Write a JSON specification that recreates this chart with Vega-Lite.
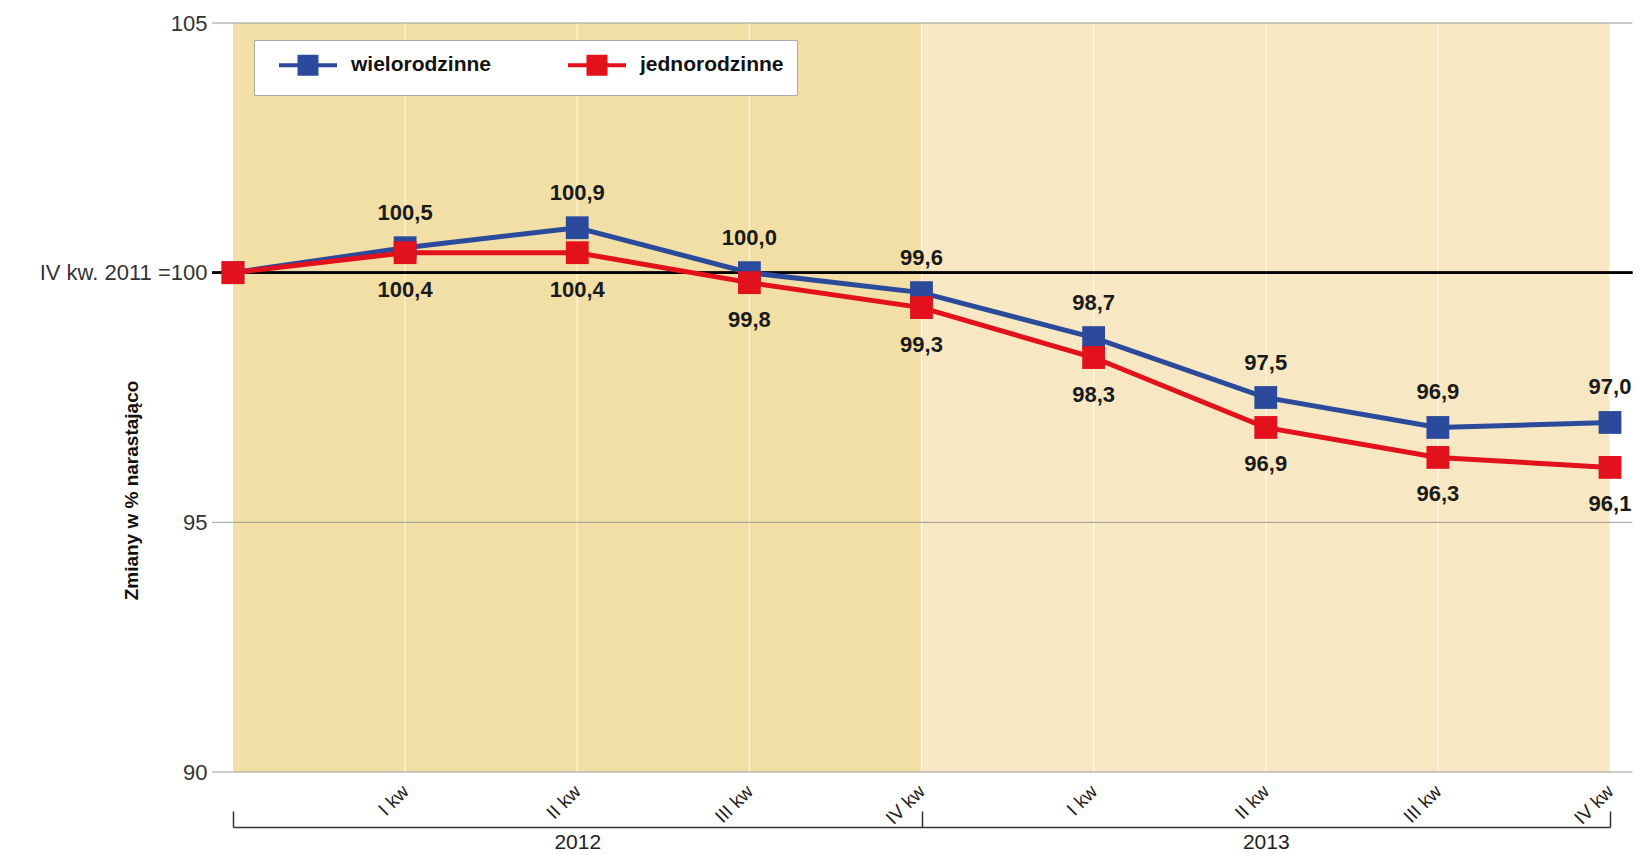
{
  "$schema": "https://vega.github.io/schema/vega-lite/v6.json",
  "width": 1377,
  "height": 749,
  "autosize": "none",
  "padding": {"left": 233, "top": 23, "right": 31, "bottom": 83},
  "background": "white",
  "config": {
    "font": "Liberation Sans",
    "view": {"stroke": null},
    "locale": {"number": {"decimal": ",", "thousands": " ", "grouping": [3], "currency": ["", " zł"]}}
  },
  "datasets": {
    "series": [
      {"q": 0, "series": "wielorodzinne", "value": 100.0},
      {"q": 1, "series": "wielorodzinne", "value": 100.5},
      {"q": 2, "series": "wielorodzinne", "value": 100.9},
      {"q": 3, "series": "wielorodzinne", "value": 100.0},
      {"q": 4, "series": "wielorodzinne", "value": 99.6},
      {"q": 5, "series": "wielorodzinne", "value": 98.7},
      {"q": 6, "series": "wielorodzinne", "value": 97.5},
      {"q": 7, "series": "wielorodzinne", "value": 96.9},
      {"q": 8, "series": "wielorodzinne", "value": 97.0},
      {"q": 0, "series": "jednorodzinne", "value": 100.0},
      {"q": 1, "series": "jednorodzinne", "value": 100.4},
      {"q": 2, "series": "jednorodzinne", "value": 100.4},
      {"q": 3, "series": "jednorodzinne", "value": 99.8},
      {"q": 4, "series": "jednorodzinne", "value": 99.3},
      {"q": 5, "series": "jednorodzinne", "value": 98.3},
      {"q": 6, "series": "jednorodzinne", "value": 96.9},
      {"q": 7, "series": "jednorodzinne", "value": 96.3},
      {"q": 8, "series": "jednorodzinne", "value": 96.1}
    ],
    "bands": [
      {"period": "2012", "start": 0, "end": 4},
      {"period": "2013", "start": 4, "end": 8}
    ],
    "grid": [{"level": 90}, {"level": 95}, {"level": 105}]
  },
  "resolve": {"axis": {"x": "independent"}, "scale": {"x": "shared", "y": "shared"}},
  "layer": [
    {
      "data": {"name": "bands"},
      "mark": {"type": "rect"},
      "encoding": {
        "x": {
          "field": "start", "type": "quantitative",
          "scale": {"domain": [0, 8], "nice": false, "zero": false},
          "axis": {
            "orient": "bottom", "offset": 55, "values": [0, 2, 4, 6, 8],
            "labelExpr": "datum.value == 2 ? '2012' : datum.value == 6 ? '2013' : ''",
            "domain": true, "domainColor": "#333", "domainWidth": 1.5,
            "ticks": true, "tickSize": -16, "tickColor": "#333", "tickWidth": 1.5,
            "tickOpacity": {"condition": {"test": "datum.value == 2 || datum.value == 6", "value": 0}, "value": 1},
            "labelFontSize": 21, "labelColor": "#222", "labelPadding": 20,
            "grid": false, "title": null, "labelFlush": false, "labelOverlap": false
          }
        },
        "x2": {"field": "end"},
        "fill": {
          "field": "period", "type": "nominal",
          "scale": {"domain": ["2012", "2013"], "range": ["#f2dfa6", "#f7e8c3"]},
          "legend": null
        }
      }
    },
    {
      "data": {"name": "series"},
      "transform": [{"filter": "datum.series == 'wielorodzinne' && datum.q >= 1"}],
      "mark": {"type": "rule", "color": "white", "strokeWidth": 1.5, "opacity": 0.6},
      "encoding": {
        "x": {"field": "q", "type": "quantitative", "axis": null}
      }
    },
    {
      "data": {"name": "grid"},
      "mark": {"type": "rule", "color": "#9a9a9a", "strokeWidth": 1},
      "encoding": {
        "y": {
          "field": "level", "type": "quantitative",
          "scale": {"domain": [90, 105], "nice": false, "zero": false},
          "axis": {
            "values": [90, 95, 100, 105],
            "labelExpr": "datum.value == 100 ? 'IV kw. 2011 =100' : datum.label",
            "labelFontSize": 22, "labelColor": "#333", "labelPadding": 26,
            "ticks": false, "domain": false, "grid": false,
            "title": "Zmiany w % narastająco",
            "titleFontSize": 19, "titleFontWeight": "bold", "titleColor": "#111",
            "titleX": -102, "titleY": 467, "titleAlign": "center", "titleBaseline": "middle", "titleAngle": -90
          }
        },
        "x": {"datum": -0.122, "type": "quantitative", "axis": null},
        "x2": {"datum": 8.13}
      }
    },
    {
      "data": {"name": "grid"},
      "mark": {"type": "rule", "color": "#000000", "strokeWidth": 2.5},
      "encoding": {
        "y": {"datum": 100, "type": "quantitative"},
        "x": {"datum": -0.122, "type": "quantitative", "axis": null},
        "x2": {"datum": 8.13}
      }
    },
    {
      "data": {"name": "series"},
      "mark": {"type": "line", "strokeWidth": 5},
      "encoding": {
        "x": {
          "field": "q", "type": "quantitative",
          "axis": {
            "orient": "bottom",
            "values": [1, 2, 3, 4, 5, 6, 7, 8],
            "labelExpr": "['', 'I kw', 'II kw', 'III kw', 'IV kw', 'I kw', 'II kw', 'III kw', 'IV kw'][datum.value]",
            "labelAngle": -45, "labelAlign": "right", "labelBaseline": "middle",
            "labelPadding": 16, "labelFontSize": 19, "labelColor": "#222",
            "domain": false, "ticks": false, "grid": false, "title": null,
            "labelFlush": false, "labelOverlap": false
          }
        },
        "y": {"field": "value", "type": "quantitative"},
        "color": {
          "field": "series", "type": "nominal",
          "scale": {"domain": ["wielorodzinne", "jednorodzinne"], "range": ["#2b4a9c", "#e3111b"]},
          "legend": {
            "orient": "none", "legendX": 21, "legendY": 17, "direction": "horizontal",
            "title": null, "fillColor": "white", "strokeColor": "#aaaaaa", "padding": 13,
            "symbolType": "M0,0H5.8M2.05,-0.85H3.75V0.85H2.05Z", "symbolSize": 400, "symbolStrokeWidth": 4,
            "labelFontSize": 21, "labelFontWeight": "bold", "labelColor": "#111",
            "labelOffset": 60, "columnPadding": 64,
            "encode": {"symbols": {"update": {"fill": {"scale": "color", "field": "value"}, "stroke": {"scale": "color", "field": "value"}, "opacity": {"value": 1}}}}
          }
        }
      }
    },
    {
      "data": {"name": "series"},
      "mark": {"type": "point", "shape": "square", "size": 520, "filled": true, "opacity": 1},
      "encoding": {
        "x": {"field": "q", "type": "quantitative", "axis": null},
        "y": {"field": "value", "type": "quantitative"},
        "color": {"field": "series", "type": "nominal", "legend": null}
      }
    },
    {
      "data": {"name": "series"},
      "transform": [{"filter": "datum.q > 0 && datum.series == 'wielorodzinne'"}],
      "mark": {"type": "text", "dy": -35, "fontSize": 22, "fontWeight": "bold", "color": "#1a1a1a"},
      "encoding": {
        "x": {"field": "q", "type": "quantitative", "axis": null},
        "y": {"field": "value", "type": "quantitative"},
        "text": {"field": "value", "type": "quantitative", "format": ".1f"}
      }
    },
    {
      "data": {"name": "series"},
      "transform": [{"filter": "datum.q > 0 && datum.series == 'jednorodzinne'"}],
      "mark": {"type": "text", "dy": 37, "fontSize": 22, "fontWeight": "bold", "color": "#1a1a1a"},
      "encoding": {
        "x": {"field": "q", "type": "quantitative", "axis": null},
        "y": {"field": "value", "type": "quantitative"},
        "text": {"field": "value", "type": "quantitative", "format": ".1f"}
      }
    }
  ]
}
